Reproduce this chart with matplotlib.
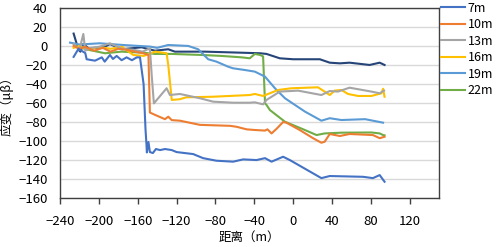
import numpy as np
import matplotlib
matplotlib.use("Agg")
import matplotlib.pyplot as plt

plt.rcParams['font.family'] = ['Noto Sans CJK SC', 'DejaVu Sans']

# strain along the tunnel (distance in m, strain in micro-units)
x_7m = [-226, -221, -214, -212.6, -204, -197, -194, -188.6, -185.5, -181.7, -176.6,
        -171.5, -166, -161, -157.7, -154, -152, -151, -150.6, -149, -147.5, -144.4,
        -141.3, -137, -132, -125, -120, -103, -92.7, -79, -61.8, -51.5, -37.8, -29,
        -22.3, -10.4, -3.5, 29, 37.6, 71.8, 82, 89, 94]
y_7m = [-11.5, -3, -7.5, -14, -15.5, -12, -16.5, -9.5, -13.7, -10.5, -15,
        -12, -15, -12, -12, -40, -88, -104, -112, -101, -111.6, -112.6,
        -108.4, -109.5, -108.4, -109.5, -111.6, -113.7, -118, -120.7, -121.7, -119.3, -120, -118,
        -121.7, -116.5, -120, -139, -136.8, -137.6, -139, -135.8, -142.8]

x_10m = [-226, -220, -214, -205, -196, -188, -180, -171.5, -163, -154.4, -149, -147.5,
         -142, -132, -128.6, -125, -116.6, -96, -65, -58.3, -48, -39.5, -29, -26.5,
         -22.3, -17, -10.4, -7, 6.7, 20.4, 29, 32.4, 37.6, 48, 58, 82, 89, 94]
y_10m = [0, -3, -1, -5, -2, -6, -3, -4, -6, -7.7, -9.5, -70,
         -72.6, -77, -74.4, -78, -78.6, -83, -84, -85, -87.7, -88.4, -89, -87.7,
         -92, -87, -80, -80.7, -88.4, -97, -101.8, -100.7, -92.6, -94.7, -92.6, -93.7, -97, -95.5]

x_13m = [-226, -220, -216, -214, -208, -200, -188.6, -176, -164.6, -155, -147.5, -145.7,
         -143.4, -130.3, -126.9, -116.6, -96, -82.4, -62, -44.7, -39.5, -31, -27.5,
         -13.8, 5, 29, 37.6, 46, 58, 80.5, 89, 93.5]
y_13m = [2, -4, 12.6, -5, -2, -1, 2.8, -3, -4, -6, -2.4, -30,
         -60.4, -44.5, -51.6, -50.5, -55, -58.6, -59.7, -59.7, -59.3, -61.4, -56.8,
         -48, -47, -51.6, -47.4, -48, -43.9, -48, -49.8, -47]

x_16m = [-226, -220, -212, -200, -188, -176, -164.6, -154, -142, -130.3, -128.6, -125,
         -116.6, -110, -82.4, -44.7, -39.5, -31, -15.5, -1.8, 25.5, 30.8, 37.6, 42.7,
         49.6, 56.4, 66.8, 80.5, 90.7, 92.5, 94]
y_16m = [-2, 0, -4, -1, -3, -1, -9.5, -10.5, -6, -7.7, -20, -56.8,
         -56, -54, -53.4, -51.6, -50.5, -52.6, -46.3, -44.5, -43.5, -47, -51.6, -47,
         -46.3, -50.5, -52.6, -52.6, -49.8, -45, -53.4]

x_19m = [-229.7, -220, -199, -175, -147.5, -140, -128.6, -108, -97.8, -87.5, -79, -67,
         -62, -49.8, -39.5, -29, -18.8, -8.5, 12, 29, 37.6, 49.6, 74, 92.5]
y_19m = [3.5, 1.5, 2.8, 1, -0.7, -2, 1, 0, -3.5, -14, -16.5, -21.8,
         -23.5, -25.3, -27, -32.3, -44.5, -55, -69, -78.6, -76, -77.9, -77, -80.7]

x_22m = [-224.6, -211, -193.7, -176.6, -156, -142, -125, -94, -73.8, -53, -44.7,
         -39.5, -34, -31, -29, -27.5, -24, -8.5, 12, 24, 32.4, 49.6, 80.5, 89, 92.5, 94]
y_22m = [0, -4, -7.7, -6, -7, -8.4, -8.4, -9.5, -10.5, -12, -13,
         -8.4, -9.5, -11, -60.4, -62, -67.4, -79.7, -88.4, -93.7, -92, -91.2, -91, -92, -93.7, -94]

x_25m = [-226, -221, -219, -216, -210, -193.7, -188.6, -176.6, -156, -142.3, -128.6,
         -121.8, -91, -56.7, -34, -27.5, -13.8, 0, 27.4, 37.6, 48, 58, 78.6, 89, 94]
y_25m = [13, -4, -6, 2, -3, -0.7, 2, -3.5, -1.4, -5, -3.5,
         -6, -6, -7, -7.7, -8.4, -13, -14, -14, -17.6, -18.3, -17.6, -20, -17.6, -20]

labels = ['7m', '10m', '13m', '16m', '19m', '22m']
colors = ['#4472C4', '#ED7D31', '#A5A5A5', '#FFC000', '#5B9BD5', '#70AD47', '#264478']
series = [(x_7m, y_7m), (x_10m, y_10m), (x_13m, y_13m), (x_16m, y_16m),
          (x_19m, y_19m), (x_22m, y_22m), (x_25m, y_25m)]

fig = plt.figure(figsize=(4.96, 2.47), dpi=100)
ax = fig.add_axes([0.121, 0.198, 0.764, 0.770])

handles = []
for i, (xs, ys) in enumerate(series):
    h, = ax.plot(xs, ys, color=colors[i], lw=1.5, zorder=3 + (6 - i) * 0.01)
    handles.append(h)

ax.set_xlim(-240, 150)
ax.set_ylim(-160, 40)
ax.set_xticks(np.arange(-240, 121, 40))
ax.set_yticks(np.arange(-160, 41, 20))
ax.yaxis.grid(True, color='#D9D9D9', lw=1)
ax.set_axisbelow(True)
ax.tick_params(axis='x', direction='out', length=4, width=1, color='#404040',
               labelsize=9.5, pad=8)
ax.tick_params(axis='y', length=0, labelsize=9.5, pad=9)
for s in ax.spines.values():
    s.set_color('#404040')
    s.set_linewidth(1)

ax.set_xlabel('距离（m）', fontsize=9, labelpad=2)
ax.set_ylabel('应变（μβ）', fontsize=9, labelpad=3)

fig.legend(handles[:6], labels, loc='upper left', bbox_to_anchor=(0.889, 0.993),
           frameon=False, fontsize=9, handlelength=1.9, handletextpad=0.25,
           labelspacing=0.28, borderaxespad=0, borderpad=0)

fig.savefig('out.png', dpi=100)
